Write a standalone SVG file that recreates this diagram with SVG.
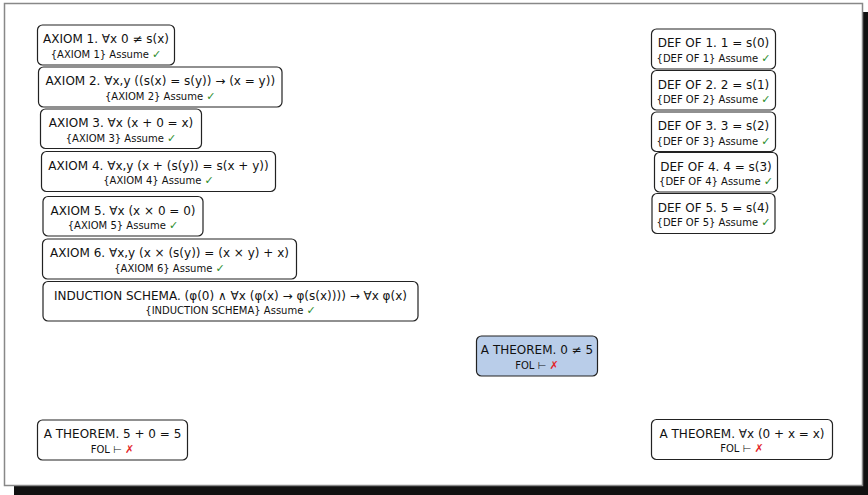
<svg xmlns="http://www.w3.org/2000/svg" width="868" height="495" viewBox="0 0 868 495">
<defs>
<style>
.bx{fill:#fff;stroke:#222;stroke-width:1.2}
.hl{fill:#b9cde9}
.t{font-family:"DejaVu Sans",sans-serif;font-size:12px;fill:#111;text-anchor:middle}
.s{font-family:"DejaVu Sans",sans-serif;font-size:10px;fill:#111;text-anchor:middle}
.ok{fill:#2a8c2a;font-weight:bold;font-size:11px}
.no{fill:#e3262a;font-weight:bold;font-size:11px}
</style>
</defs>
<rect x="0" y="0" width="868" height="495" fill="#fff"/>
<rect x="14" y="12" width="860" height="490" fill="#111"/>
<rect x="4.5" y="3.5" width="858" height="482" fill="#fff" stroke="#888" stroke-width="1.5"/>
<g id="connectors"></g>
<g id="axiom1"><rect class="bx" x="37.5" y="25" width="137" height="40" rx="5"/><text class="t" x="106" y="43">AXIOM 1. ∀x 0 ≠ s(x)</text><text class="s" x="106" y="57.5">{AXIOM 1} Assume <tspan class="ok">✓</tspan></text></g>
<g id="axiom2"><rect class="bx" x="38.5" y="67" width="243.5" height="40" rx="5"/><text class="t" x="160.25" y="85">AXIOM 2. ∀x,y ((s(x) = s(y)) → (x = y))</text><text class="s" x="160.25" y="99.5">{AXIOM 2} Assume <tspan class="ok">✓</tspan></text></g>
<g id="axiom3"><rect class="bx" x="40.5" y="109" width="161" height="39.5" rx="5"/><text class="t" x="121" y="127">AXIOM 3. ∀x (x + 0 = x)</text><text class="s" x="121" y="141.5">{AXIOM 3} Assume <tspan class="ok">✓</tspan></text></g>
<g id="axiom4"><rect class="bx" x="41.5" y="151.5" width="234" height="40" rx="5"/><text class="t" x="158.5" y="169.5">AXIOM 4. ∀x,y (x + (s(y)) = s(x + y))</text><text class="s" x="158.5" y="184">{AXIOM 4} Assume <tspan class="ok">✓</tspan></text></g>
<g id="axiom5"><rect class="bx" x="43" y="196.5" width="160" height="39.5" rx="5"/><text class="t" x="123" y="214.5">AXIOM 5. ∀x (x × 0 = 0)</text><text class="s" x="123" y="229">{AXIOM 5} Assume <tspan class="ok">✓</tspan></text></g>
<g id="axiom6"><rect class="bx" x="42.5" y="239" width="254" height="40" rx="5"/><text class="t" x="169.5" y="257">AXIOM 6. ∀x,y (x × (s(y)) = (x × y) + x)</text><text class="s" x="169.5" y="271.5">{AXIOM 6} Assume <tspan class="ok">✓</tspan></text></g>
<g id="induction"><rect class="bx" x="43" y="281.5" width="375" height="39.5" rx="5"/><text class="t" x="230.5" y="299.5">INDUCTION SCHEMA. (φ(0) ∧ ∀x (φ(x) → φ(s(x)))) → ∀x φ(x)</text><text class="s" x="230.5" y="314">{INDUCTION SCHEMA} Assume <tspan class="ok">✓</tspan></text></g>
<g id="def1"><rect class="bx" x="651.5" y="29" width="124" height="40" rx="5"/><text class="t" x="713.5" y="47">DEF OF 1. 1 = s(0)</text><text class="s" x="713.5" y="61.5">{DEF OF 1} Assume <tspan class="ok">✓</tspan></text></g>
<g id="def2"><rect class="bx" x="651.5" y="70.5" width="124" height="39.5" rx="5"/><text class="t" x="713.5" y="88.5">DEF OF 2. 2 = s(1)</text><text class="s" x="713.5" y="103">{DEF OF 2} Assume <tspan class="ok">✓</tspan></text></g>
<g id="def3"><rect class="bx" x="651.5" y="112" width="124" height="39.5" rx="5"/><text class="t" x="713.5" y="130">DEF OF 3. 3 = s(2)</text><text class="s" x="713.5" y="144.5">{DEF OF 3} Assume <tspan class="ok">✓</tspan></text></g>
<g id="def4"><rect class="bx" x="654.5" y="152.5" width="123" height="39.5" rx="5"/><text class="t" x="716" y="170.5">DEF OF 4. 4 = s(3)</text><text class="s" x="716" y="185">{DEF OF 4} Assume <tspan class="ok">✓</tspan></text></g>
<g id="def5"><rect class="bx" x="652" y="193.5" width="123" height="40" rx="5"/><text class="t" x="713.5" y="211.5">DEF OF 5. 5 = s(4)</text><text class="s" x="713.5" y="226">{DEF OF 5} Assume <tspan class="ok">✓</tspan></text></g>
<g id="theorem0ne5"><rect class="bx hl" x="476.5" y="336" width="121" height="40" rx="5"/><text class="t" x="537" y="354">A THEOREM. 0 ≠ 5</text><text class="s" x="537" y="368.5">FOL ⊢ <tspan class="no">✗</tspan></text></g>
<g id="theorem5p0"><rect class="bx" x="37.5" y="420" width="150" height="40" rx="5"/><text class="t" x="112.5" y="438">A THEOREM. 5 + 0 = 5</text><text class="s" x="112.5" y="452.5">FOL ⊢ <tspan class="no">✗</tspan></text></g>
<g id="theoremforall"><rect class="bx" x="651.5" y="419.5" width="181" height="40" rx="5"/><text class="t" x="742" y="437.5">A THEOREM. ∀x (0 + x = x)</text><text class="s" x="742" y="452">FOL ⊢ <tspan class="no">✗</tspan></text></g>
</svg>
